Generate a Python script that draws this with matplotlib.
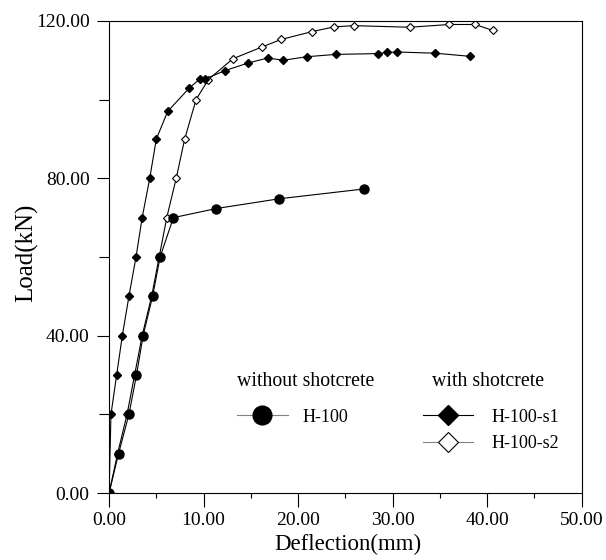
import matplotlib
matplotlib.use("Agg")
import matplotlib.pyplot as plt
from matplotlib.lines import Line2D
from matplotlib.ticker import MultipleLocator, FormatStrFormatter

plt.rcParams['font.family'] = ['Liberation Serif', 'DejaVu Serif']

# --- data (deflection in mm, load in kN) ---
h100_x = [0.0, 1.0, 2.1, 2.9, 3.6, 4.6, 5.4, 6.8, 11.3, 18.0, 27.0]
h100_y = [0.0, 10.0, 20.0, 30.0, 40.0, 50.0, 60.0, 70.0, 72.3, 74.8, 77.3]

s1_x = [0.0, 0.2, 0.8, 1.4, 2.1, 2.85, 3.5, 4.3, 5.0, 6.2, 8.5, 9.6, 10.1,
        12.3, 14.7, 16.8, 18.4, 20.9, 24.0, 28.4, 29.4, 30.5, 34.5, 38.2]
s1_y = [0.0, 20.0, 30.0, 40.0, 50.0, 60.0, 70.0, 80.0, 90.0, 97.0, 103.0, 105.2, 105.2,
        107.4, 109.3, 110.6, 110.0, 110.9, 111.5, 111.7, 112.0, 112.1, 111.8, 111.0]

s2_x = [0.0, 0.9, 1.9, 2.7, 3.5, 4.5, 5.3, 6.1, 7.1, 8.0, 9.2, 10.5,
        13.1, 16.2, 18.2, 21.5, 23.8, 25.9, 31.8, 36.0, 38.7, 40.6]
s2_y = [0.0, 10.0, 20.0, 30.0, 40.0, 50.0, 60.0, 70.0, 80.0, 90.0, 100.0, 105.1,
        110.4, 113.4, 115.3, 117.3, 118.5, 118.8, 118.4, 119.1, 119.1, 117.6]

fig = plt.figure(figsize=(6.06, 5.6), dpi=100)
ax = fig.add_axes([0.180, 0.1196, 0.780, 0.843])

ax.plot(s2_x, s2_y, color='black', lw=0.8, marker='D', markersize=4.0,
        markerfacecolor='white', markeredgecolor='black', markeredgewidth=0.8)
ax.plot(h100_x, h100_y, color='black', lw=0.8, marker='o', markersize=6.5,
        markerfacecolor='black', markeredgecolor='black')
ax.plot(s1_x, s1_y, color='black', lw=0.8, marker='D', markersize=4.3,
        markerfacecolor='black', markeredgecolor='black')

ax.set_xlim(0, 50)
ax.set_ylim(0, 120)
ax.xaxis.set_major_locator(MultipleLocator(10))
ax.xaxis.set_minor_locator(MultipleLocator(5))
ax.yaxis.set_major_locator(MultipleLocator(40))
ax.yaxis.set_minor_locator(MultipleLocator(20))
ax.xaxis.set_major_formatter(FormatStrFormatter('%.2f'))
ax.yaxis.set_major_formatter(FormatStrFormatter('%.2f'))
ax.tick_params(which='both', direction='out', width=0.8, labelsize=14, pad=5)
ax.tick_params(axis='x', which='major', length=10, pad=4)
ax.tick_params(axis='x', which='minor', length=3.5)
ax.tick_params(axis='y', which='major', length=9)
ax.tick_params(axis='y', which='minor', length=7)
for sp in ax.spines.values():
    sp.set_linewidth(0.8)

ax.set_xlabel('Deflection(mm)', fontsize=16.5)
ax.set_ylabel('Load(kN)', fontsize=18)
ax.xaxis.set_label_coords(0.505, -0.086)
ax.yaxis.set_label_coords(-0.150, 0.508)

# legend headings
ax.text(0.271, 0.237, 'without shotcrete', transform=ax.transAxes,
        ha='left', va='center', fontsize=14.3)
ax.text(0.683, 0.237, 'with shotcrete', transform=ax.transAxes,
        ha='left', va='center', fontsize=14.3)

# legends
h_h100 = Line2D([], [], color='gray', lw=0.8, marker='o', markersize=13.5,
                markerfacecolor='black', markeredgecolor='black')
h_s1 = Line2D([], [], color='black', lw=0.8, marker='D', markersize=10,
              markerfacecolor='black', markeredgecolor='black')
h_s2 = Line2D([], [], color='gray', lw=0.8, marker='D', markersize=10,
              markerfacecolor='white', markeredgecolor='black', markeredgewidth=0.8)

leg1 = ax.legend([h_h100], ['H-100'], loc='upper left',
                 bbox_to_anchor=(0.271, 0.179), frameon=False, fontsize=13,
                 handlelength=2.8, handletextpad=0.8, borderpad=0, borderaxespad=0)
ax.add_artist(leg1)
ax.legend([h_s1, h_s2], ['H-100-s1', 'H-100-s2'], loc='upper left',
          bbox_to_anchor=(0.664, 0.179), frameon=False, fontsize=13,
          handlelength=2.8, handletextpad=1.0, borderpad=0, borderaxespad=0,
          labelspacing=0.55)

fig.savefig('out.png', dpi=100)
